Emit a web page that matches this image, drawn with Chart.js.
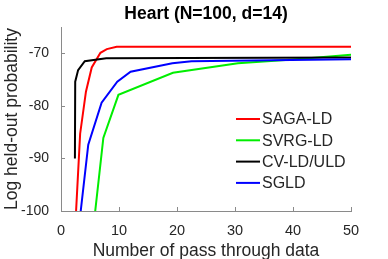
<!DOCTYPE html>
<html lang="en">
<head>
  <meta charset="UTF-8" />
  <title>Heart (N=100, d=14)</title>
  <style>
  body { margin: 0; padding: 0; background: #ffffff; }
  .wrap { width: 388px; height: 259px; position: relative; }
  </style>
  <script src="https://cdn.jsdelivr.net/npm/chart.js"></script>
</head>
<body>
  <div class="wrap"><canvas id="heartChart"></canvas></div>

  <script>
  // data
  const seriesNames = ['SAGA-LD', 'SVRG-LD', 'CV-LD/ULD', 'SGLD'];
  const seriesColors = ['#ff0000', '#00ee00', '#000000', '#0000ff'];

  const sagaX = [2.6, 3.3, 4.3, 5.3, 6.8, 7.9, 9.6, 50];
  const sagaY = [-100, -85.3, -77.3, -72.7, -69.9, -69.2, -68.75, -68.75];

  const svrgX = [5.9, 7.3, 9.9, 19.3, 30.5, 40, 50];
  const svrgY = [-100, -86.1, -77.9, -73.7, -71.9, -71.2, -70.27];

  const cvX = [2.4, 2.45, 2.95, 4.1, 7.8, 50];
  const cvY = [-90, -75.4, -73.2, -71.5, -70.95, -70.8];

  const sgldX = [3.4, 4.7, 7.0, 9.7, 12.0, 19.2, 22.5, 50];
  const sgldY = [-100, -87.4, -79.4, -75.4, -73.5, -71.9, -71.5, -71.15];

  const xTicks = [0, 10, 20, 30, 40, 50];
  const yTicks = [-100, -90, -80, -70];

  const axisColor = '#8a8a8a';
  const textColor = '#262626';
  const fontFamily = '"Liberation Sans", Arial, Helvetica, sans-serif';

  function toPoints(xs, ys) {
    return xs.map((x, i) => ({ x: x, y: ys[i] }));
  }

  const allSeries = [
    toPoints(sagaX, sagaY),
    toPoints(svrgX, svrgY),
    toPoints(cvX, cvY),
    toPoints(sgldX, sgldY)
  ];

  // MATLAB style: inward tick marks + legend box inside the axes
  const matlabBits = {
    id: 'matlabBits',
    afterDraw(chart) {
      const ctx = chart.ctx;
      const area = chart.chartArea;
      const xs = chart.scales.x;
      const ys = chart.scales.y;
      ctx.save();
      ctx.strokeStyle = axisColor;
      ctx.lineWidth = 1;
      ctx.beginPath();
      xTicks.forEach(v => {
        const px = Math.round(xs.getPixelForValue(v)) + 0.5;
        ctx.moveTo(px, area.bottom);
        ctx.lineTo(px, area.bottom - 4);
      });
      yTicks.forEach(v => {
        const py = Math.round(ys.getPixelForValue(v)) + 0.5;
        ctx.moveTo(area.left, py);
        ctx.lineTo(area.left + 4, py);
      });
      ctx.stroke();

      // legend
      const lx = area.right - 115;
      const ly = area.bottom - 92;
      ctx.font = '16px ' + fontFamily;
      ctx.textBaseline = 'middle';
      ctx.textAlign = 'left';
      seriesNames.forEach((name, i) => {
        const y = ly + i * 21.3;
        ctx.strokeStyle = seriesColors[i];
        ctx.lineWidth = 2;
        ctx.beginPath();
        ctx.moveTo(lx, y);
        ctx.lineTo(lx + 24, y);
        ctx.stroke();
        ctx.fillStyle = textColor;
        ctx.fillText(name, lx + 26, y + 1);
      });
      ctx.restore();
    }
  };

  const ctx = document.getElementById('heartChart').getContext('2d');
  new Chart(ctx, {
    type: 'line',
    data: {
      datasets: seriesNames.map((name, i) => ({
        label: name,
        data: allSeries[i],
        borderColor: seriesColors[i],
        backgroundColor: seriesColors[i],
        borderWidth: 2,
        pointRadius: 0,
        tension: 0,
        fill: false,
        order: seriesNames.length - 1 - i  // later series drawn on top
      }))
    },
    options: {
      responsive: true,
      maintainAspectRatio: false,
      animation: false,
      layout: { padding: { left: 0, right: 37, top: 0, bottom: 0 } },
      plugins: {
        legend: { display: false },
        tooltip: { enabled: false },
        title: {
          display: true,
          text: 'Heart (N=100, d=14)',
          color: '#000',
          fullSize: false,
          font: { family: fontFamily, size: 17.5, weight: 'bold' },
          padding: { top: 4, bottom: 2 }
        }
      },
      scales: {
        x: {
          type: 'linear',
          min: 0,
          max: 50,
          grid: { display: false },
          border: { display: true, color: axisColor, width: 1 },
          afterBuildTicks: s => { s.ticks = xTicks.map(v => ({ value: v })); },
          afterFit: s => { s.height = 48; },
          ticks: {
            color: textColor,
            padding: 3,
            maxRotation: 0,
            font: { family: fontFamily, size: 14.5 }
          },
          title: {
            display: true,
            text: 'Number of pass through data',
            color: textColor,
            padding: { top: 0, bottom: -3 },
            font: { family: fontFamily, size: 17.5 }
          }
        },
        y: {
          type: 'linear',
          min: -100,
          max: -65,
          grid: { display: false },
          border: { display: true, color: axisColor, width: 1 },
          afterBuildTicks: s => { s.ticks = yTicks.map(v => ({ value: v })); },
          afterFit: s => { s.width = 61; },
          ticks: {
            color: textColor,
            padding: 4,
            font: { family: fontFamily, size: 14 }
          },
          title: {
            display: true,
            text: 'Log held-out probability',
            color: textColor,
            padding: { top: 2, bottom: 0 },
            font: { family: fontFamily, size: 17.5 }
          }
        }
      }
    },
    plugins: [matlabBits]
  });
  </script>
</body>
</html>
